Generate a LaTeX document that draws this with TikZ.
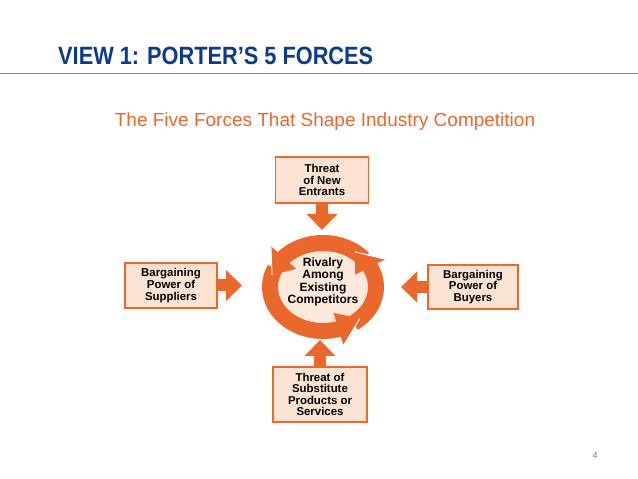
\documentclass[tikz,border=0pt]{standalone}
\usepackage{fontspec}
\usepackage{graphicx}
\setmainfont{Liberation Sans}
\usetikzlibrary{arrows.meta,shapes.geometric}
\definecolor{porange}{HTML}{EB682D}
\definecolor{pfill}{HTML}{FBE3D3}
\definecolor{pinner}{HTML}{FCE9DC}
\definecolor{ptitle}{HTML}{0D3B8C}
\definecolor{pline}{HTML}{8C7C8C}
\begin{document}
\begin{tikzpicture}[x=1pt,y=1pt,
  forcebox/.style={draw=porange, line width=1.5pt, fill=pfill, align=center,
    font=\fontsize{11.4}{11.6}\selectfont\bfseries, inner sep=0pt},
  blockarrow/.style={draw=porange, line width=12pt, -{Triangle[width=30pt,length=16pt]}},
  ringbody/.style={draw=porange, line width=16pt},
  ringhead/.style={fill=porange},
  headedge/.style={draw=white, line width=0.9pt}]
\useasboundingbox (0,0) rectangle (638,479);
\fill[white] (0,0) rectangle (638,479);
% title
\node[anchor=base west, font=\fontsize{25}{30}\selectfont\bfseries, text=ptitle, inner sep=0pt]
  (title) at (58,414) {\scalebox{0.87}[1]{VIEW 1: PORTER’S 5 FORCES}};
\coordinate (lineL) at (0,405);
\coordinate (lineR) at (638,405);
\draw[pline, line width=1pt] (lineL) -- (lineR);
% subtitle
\node[anchor=base, font=\fontsize{19}{22}\selectfont, text=porange, inner sep=0pt]
  (sub) at (325,352) {The Five Forces That Shape Industry Competition};
% ring
\coordinate (ringc) at (323,192);
\fill[pinner] (ringc) ellipse [x radius=54pt, y radius=45pt];
\draw[ringbody] (ringc) ++(40:53 and 44) arc[start angle=40, end angle=140, x radius=53, y radius=44];
\draw[ringbody] (ringc) ++(155:53 and 44) arc[start angle=155, end angle=289, x radius=53, y radius=44];
\draw[ringbody] (ringc) ++(-55:53 and 44) arc[start angle=-55, end angle=29, x radius=53, y radius=44];
% heads
\fill[ringhead] ([shift={(138:70 and 61)}]ringc) coordinate (hAo) -- ([shift={(164:53 and 44)}]ringc) coordinate (hAt)
  -- ([shift={(138:36 and 27)}]ringc) -- cycle;
\fill[ringhead] ([shift={(-73:70 and 61)}]ringc) coordinate (hBo) -- ([shift={(-46:53 and 44)}]ringc) coordinate (hBt)
  -- ([shift={(-73:36 and 27)}]ringc) -- cycle;
\fill[ringhead] ([shift={(27:70 and 61)}]ringc) coordinate (hCo) -- ([shift={(53:53 and 44)}]ringc) coordinate (hCt)
  -- ([shift={(27:36 and 27)}]ringc) -- cycle;
\draw[headedge] (hCo) -- (hCt);
\draw[headedge] (hBo) -- (hBt);
\draw[headedge] (hAo) -- (hAt);
\node[align=center, font=\fontsize{12}{12.3}\selectfont\bfseries, inner sep=0pt]
  (rival) at (323,197) {Rivalry\\Among\\Existing\\Competitors};
% boxes
\node[forcebox, minimum width=93pt, minimum height=46pt] (top) at (322,299) {Threat\\of New\\Entrants};
\node[forcebox, minimum width=92pt, minimum height=45pt] (left) at (171,193.5) {Bargaining\\Power of\\Suppliers};
\node[forcebox, minimum width=90pt, minimum height=44pt] (right) at (473,192) {Bargaining\\Power of\\Buyers};
\node[forcebox, minimum width=94pt, minimum height=55pt] (bottom) at (320,84.5) {Threat of\\Substitute\\Products or\\Services};
% arrows into ring
\coordinate (toptip) at (322,249);
\coordinate (lefttip) at (242,193.5);
\coordinate (righttip) at (401,192);
\coordinate (bottip) at (320,139);
\draw[blockarrow] (top.south) -- (toptip);
\draw[blockarrow] (left.east) -- (lefttip);
\draw[blockarrow] (right.west) -- (righttip);
\draw[blockarrow] (bottom.north) -- (bottip);
% page number
\node[text=gray, font=\fontsize{9}{10}\selectfont, inner sep=0pt] (pnum) at (595,24) {4};
\end{tikzpicture}
\end{document}
